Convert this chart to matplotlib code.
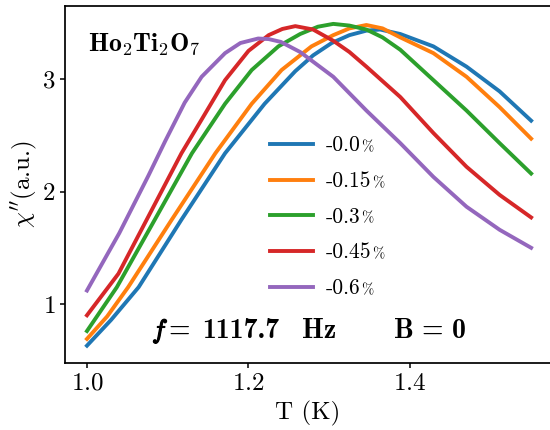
import matplotlib
matplotlib.use("Agg")
import matplotlib.pyplot as plt
import matplotlib.patheffects as pe

plt.rcParams["font.family"] = "serif"
plt.rcParams["font.serif"] = ["cmr10"]
plt.rcParams["mathtext.fontset"] = "cm"
plt.rcParams["axes.unicode_minus"] = False
plt.rcParams["axes.formatter.use_mathtext"] = True

# chi'' vs T for each strain
T_00 = [1.000, 1.030, 1.064, 1.117, 1.171, 1.220, 1.258, 1.280, 1.303, 1.325, 1.346, 1.363, 1.388, 1.429, 1.470, 1.511, 1.550]
chi_00 = [0.63, 0.86, 1.15, 1.75, 2.34, 2.78, 3.07, 3.21, 3.32, 3.39, 3.43, 3.44, 3.40, 3.29, 3.11, 2.89, 2.63]

T_015 = [1.000, 1.025, 1.051, 1.105, 1.159, 1.204, 1.241, 1.278, 1.305, 1.325, 1.346, 1.366, 1.388, 1.429, 1.470, 1.511, 1.550]
chi_015 = [0.69, 0.89, 1.15, 1.75, 2.34, 2.78, 3.08, 3.29, 3.39, 3.45, 3.48, 3.45, 3.37, 3.23, 3.02, 2.75, 2.47]

T_03 = [1.000, 1.037, 1.084, 1.130, 1.171, 1.204, 1.237, 1.264, 1.286, 1.305, 1.325, 1.346, 1.366, 1.388, 1.429, 1.470, 1.511, 1.550]
chi_03 = [0.76, 1.15, 1.75, 2.34, 2.78, 3.08, 3.29, 3.40, 3.465, 3.49, 3.475, 3.44, 3.37, 3.26, 2.99, 2.72, 2.43, 2.16]

T_045 = [1.000, 1.039, 1.082, 1.117, 1.142, 1.171, 1.200, 1.225, 1.242, 1.258, 1.280, 1.305, 1.325, 1.346, 1.388, 1.429, 1.470, 1.511, 1.550]
chi_045 = [0.90, 1.27, 1.86, 2.34, 2.64, 2.99, 3.25, 3.39, 3.445, 3.47, 3.44, 3.34, 3.24, 3.11, 2.84, 2.52, 2.22, 1.97, 1.77]

T_06 = [1.000, 1.040, 1.076, 1.097, 1.121, 1.142, 1.171, 1.190, 1.212, 1.225, 1.240, 1.264, 1.305, 1.346, 1.388, 1.429, 1.470, 1.511, 1.550]
chi_06 = [1.12, 1.63, 2.14, 2.45, 2.79, 3.02, 3.23, 3.32, 3.36, 3.355, 3.33, 3.24, 3.02, 2.72, 2.43, 2.13, 1.865, 1.66, 1.50]

series = [(T_00, chi_00), (T_015, chi_015), (T_03, chi_03), (T_045, chi_045), (T_06, chi_06)]
labels = ["-0.0", "-0.15", "-0.3", "-0.45", "-0.6"]

W, H = 550, 430


def fx(px):
    return px / W


def fy(py):
    return 1 - py / H


fig = plt.figure(figsize=(5.5, 4.3), dpi=100)
# the axes run past the right edge of the picture, as in the reference
ax = fig.add_axes([fx(65), fy(363), 535 / W, 357 / H])

for (T, chi), lab in zip(series, labels):
    ax.plot(T, chi, lw=2.8, label=lab)

ax.set_xlim(0.9728, 1.6353)
ax.set_ylim(0.476, 3.649)
ax.set_xticks([1.0, 1.2, 1.4])
ax.set_yticks([1, 2, 3])
ax.tick_params(labelsize=18, width=1.1)
for s in ax.spines.values():
    s.set_linewidth(1.25)

ax.set_xlabel("T (K)", fontsize=18)
ax.set_ylabel(r"$\chi''$(a.u.)", fontsize=18)
ax.xaxis.set_label_coords((308 - 65) / 535, -0.105)
ax.yaxis.set_label_coords(-0.048, 0.5)

leg = ax.legend(loc="center left", bbox_to_anchor=((270 - 65) / 535, 0.409), frameon=False,
                fontsize=15.5, handlelength=2.0, handletextpad=0.6,
                labelspacing=0.75, borderpad=0, borderaxespad=0)
for t in leg.get_texts():
    ax.annotate("%", xy=(1, 0), xycoords=t, xytext=(0.5, 3.0),
                textcoords="offset points", va="baseline", fontsize=10.5, zorder=6)

fig.text(fx(88), fy(51), r"$\mathbf{Ho}_2\mathbf{Ti}_2\mathbf{O}_7$", fontsize=18.5, va="baseline")

fig.text(fx(152), fy(338), r"$f$", fontsize=19, va="baseline",
         path_effects=[pe.withStroke(linewidth=0.9, foreground="black")])
fig.text(fx(168), fy(338), "=", fontsize=20, va="baseline", family="cmb10")
fig.text(fx(202), fy(338), "1117.7", fontsize=20, va="baseline", family="cmb10")
fig.text(fx(302), fy(338), "Hz", fontsize=20, va="baseline", family="cmb10")
fig.text(fx(394), fy(338), "B", fontsize=20, va="baseline", family="cmb10")
fig.text(fx(422), fy(338), "=", fontsize=20, va="baseline", family="cmb10")
fig.text(fx(452), fy(338), "0", fontsize=20, va="baseline", family="cmb10")

fig.savefig("out.png", dpi=100)
